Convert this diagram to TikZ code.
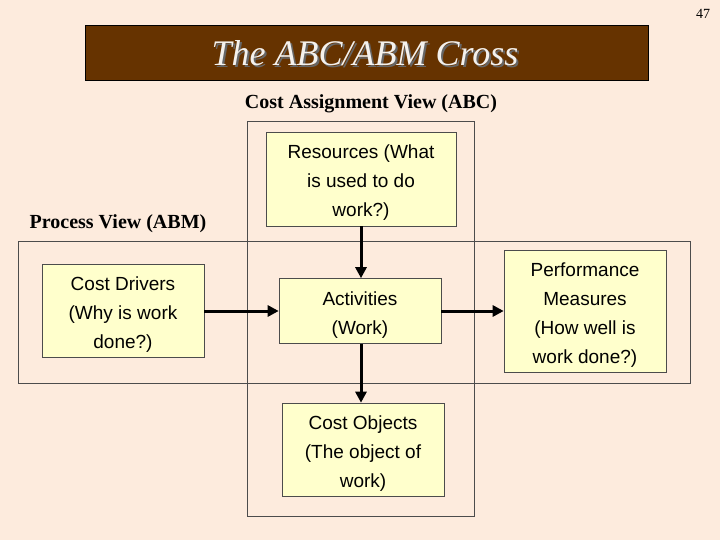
\documentclass[tikz,border=0pt]{standalone}
\usepackage{fontspec}
\setmainfont{Liberation Serif}
\newfontfamily\arial{Liberation Sans}
\usetikzlibrary{arrows.meta}
\definecolor{bg}{HTML}{FDEBDD}
\definecolor{brown}{HTML}{663300}
\definecolor{boxy}{HTML}{FFFFCC}
\begin{document}
\begin{tikzpicture}[x=1pt,y=-1pt,
  box/.style={draw=black!70,line width=0.6pt,fill=boxy,inner sep=0pt},
  btext/.style={align=center,font=\arial\fontsize{19}{29}\selectfont,inner sep=0pt,yshift=-4pt},
  frame/.style={draw=black!70,line width=0.6pt},
  arr/.style={line width=3pt,-{Triangle[length=11pt,width=11pt]}}]
\fill[bg] (0,0) rectangle (720,540);
\useasboundingbox (0,0) rectangle (720,540);
\node[anchor=center,font=\fontsize{14}{16}\selectfont] (pg) at (703,14) {47};
\node[fill=brown,draw=black,minimum width=563pt,minimum height=55pt,anchor=north west,inner sep=0pt] (tb) at (85,25) {};
\node[font=\itshape\fontsize{36}{40}\selectfont,text=black!60] (tsh) at (367,55) {The ABC/ABM Cross};
\node[font=\itshape\fontsize{36}{40}\selectfont,text=white!93!brown] (title) at (365,53) {The ABC/ABM Cross};
\draw[frame] (247,121) rectangle (474,516);
\draw[frame] (18,241) rectangle (690,383);
\node[font=\bfseries\fontsize{20}{24}\selectfont] (cav) at (371,104) {Cost Assignment View (ABC)};
\node[font=\bfseries\fontsize{20}{24}\selectfont] (pv) at (118,224) {Process View (ABM)};
\node[box,minimum width=190pt,minimum height=94pt] (res) at (361,179) {};
\node[btext] (rest) at (res.center) {Resources (What\\is used to do\\work?)};
\node[box,minimum width=162pt,minimum height=93pt] (cd) at (123,311) {};
\node[btext] (cdt) at (cd.center) {Cost Drivers\\(Why is work\\done?)};
\node[box,minimum width=162pt,minimum height=65pt] (act) at (360,311) {};
\node[btext] (actt) at (act.center) {Activities\\(Work)};
\node[box,minimum width=162pt,minimum height=122pt] (pm) at (585,311) {};
\node[btext] (pmt) at (pm.center) {Performance\\Measures\\(How well is\\work done?)};
\node[box,minimum width=162pt,minimum height=93pt] (co) at (363,449.5) {};
\node[btext] (cot) at (co.center) {Cost Objects\\(The object of\\work)};
\draw[arr] (res.south -| 361,0) -- (act.north -| 361,0);
\draw[arr] (cd.east) -- (act.west);
\draw[arr] (act.east) -- (pm.west);
\draw[arr] (act.south -| 361,0) -- (co.north -| 361,0);
\end{tikzpicture}
\end{document}
